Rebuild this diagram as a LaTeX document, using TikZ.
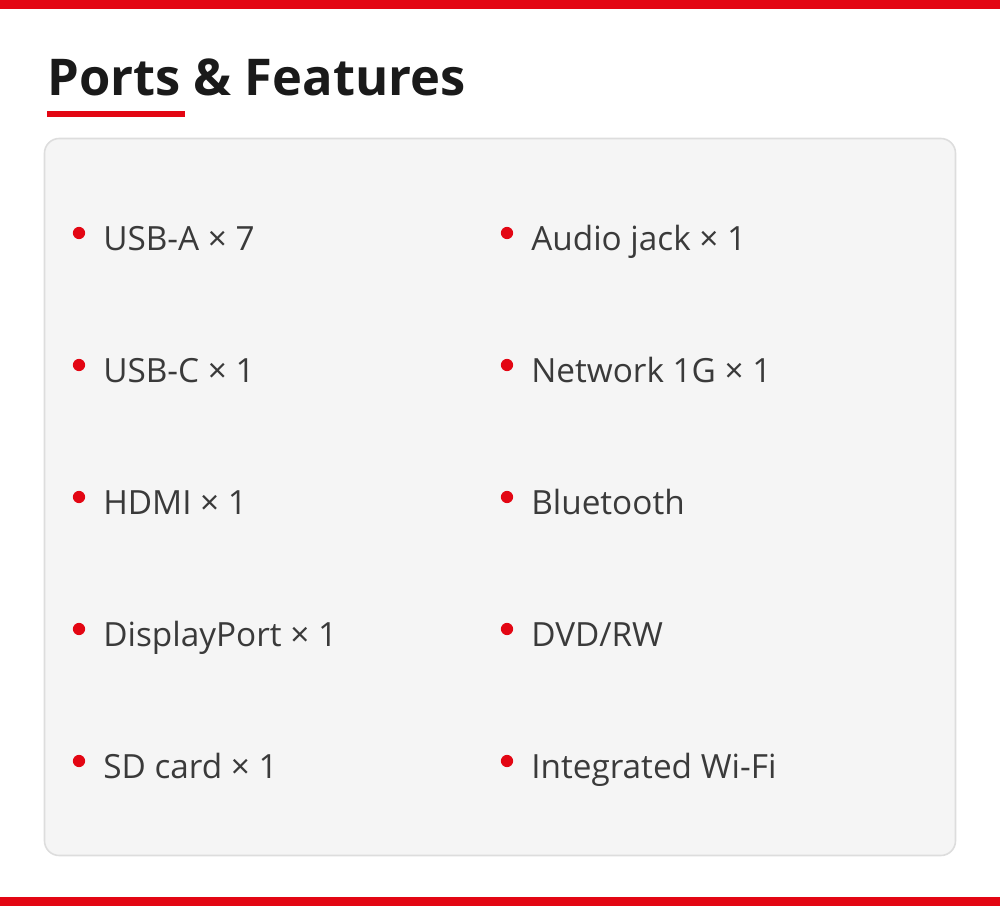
\documentclass[tikz,border=0pt]{standalone}
\usepackage{fontspec}
\setmainfont{Open Sans}
\usetikzlibrary{positioning}
\definecolor{portred}{HTML}{E30613}
\definecolor{panelfill}{HTML}{F5F5F5}
\definecolor{panelline}{HTML}{DDDDDD}
\definecolor{itemgray}{HTML}{3A3A3A}
\definecolor{titlegray}{HTML}{1A1A1A}
\begin{document}
\begin{tikzpicture}[
		x=0.75pt, y=-0.75pt,
		item/.style={anchor=base west, inner sep=0pt, text=itemgray, font=\fontsize{25}{30}\selectfont},
		dot/.style={circle, fill=portred, minimum size=9.2pt, inner sep=0pt},
	]
	\path[use as bounding box] (0,0) rectangle (1000,906);
	\fill[portred] (0,0) rectangle (1000,9);
	\fill[portred] (0,897) rectangle (1000,906);
	\node[anchor=base west, inner sep=0pt, text=titlegray, font=\fontsize{38}{46}\selectfont\bfseries] (title) at (47,95) {Ports \& Features};
	\fill[portred] (47,111) rectangle (185,117);
	\draw[panelline, fill=panelfill, line width=1.2pt, rounded corners=11pt] (44.5,138.5) rectangle (955.5,855.5);
	% left column
	\foreach \txt [count=\i] in {USB-A × 7, USB-C × 1, HDMI × 1, DisplayPort × 1, SD card × 1}{
			\node[dot] (dotL\i) at (79,{233+132*(\i-1)}) {};
			\node[item] (itemL\i) at (103,{250+132*(\i-1)}) {\txt};
		}
	% right column
	\foreach \txt [count=\i] in {Audio jack × 1, Network 1G × 1, Bluetooth, DVD/RW, Integrated Wi-Fi}{
			\node[dot] (dotR\i) at (507,{233+132*(\i-1)}) {};
			\node[item] (itemR\i) at (531,{250+132*(\i-1)}) {\txt};
		}
\end{tikzpicture}
\end{document}
